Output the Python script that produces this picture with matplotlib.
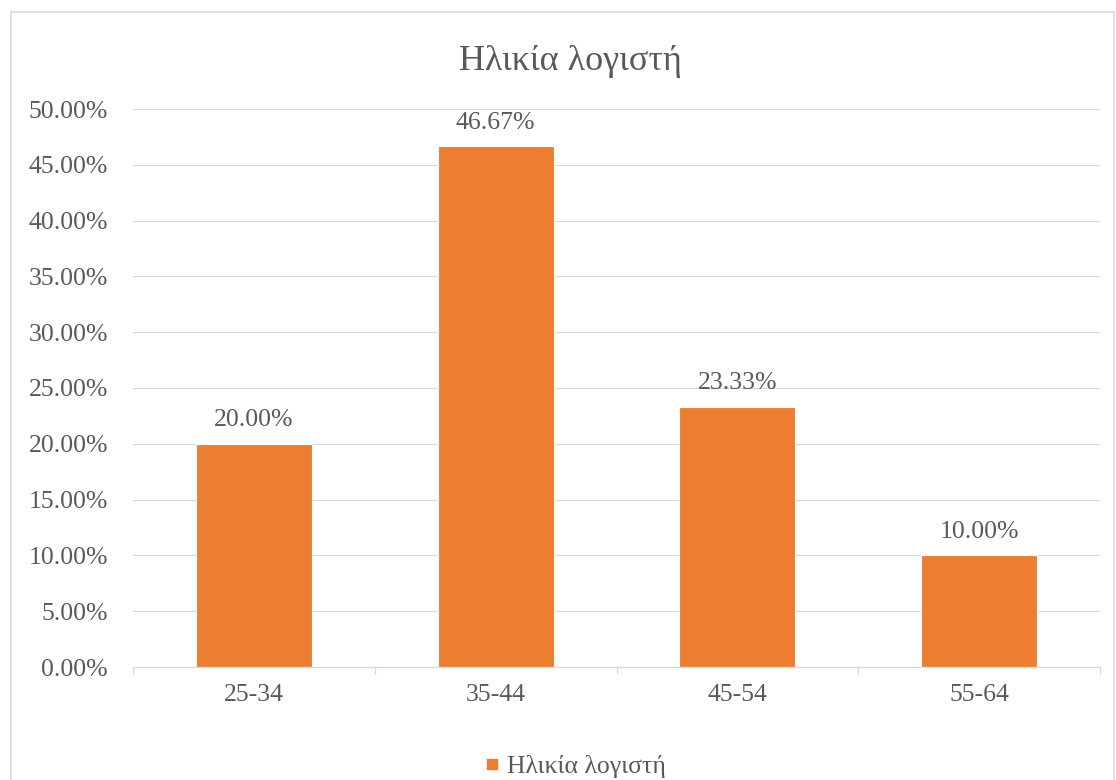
import matplotlib
matplotlib.use("Agg")
import matplotlib.pyplot as plt
from matplotlib.lines import Line2D
import numpy as np

categories = ["25-34", "35-44", "45-54", "55-64"]
values = [20.00, 46.67, 23.33, 10.00]
yticks = [0, 5, 10, 15, 20, 25, 30, 35, 40, 45, 50]
title = "Ηλικία λογιστή"
series_name = "Ηλικία λογιστή"

ORANGE = "#ED7D31"
TEXT = "#595959"
GRID = "#D9D9D9"
FONT = ["Liberation Serif", "DejaVu Serif"]

plt.rcParams["font.family"] = FONT

W, H = 1116, 780
fig = plt.figure(figsize=(W / 100, H / 100), dpi=100)
ax = fig.add_axes([133 / W, 1 - 667 / H, (1100 - 133) / W, (667 - 109) / H])

x = np.arange(len(categories))
bars = ax.bar(x, values, width=0.48, color=ORANGE, edgecolor="white", linewidth=0.8, zorder=3)

ax.set_xlim(-0.5, len(categories) - 0.5)
ax.set_ylim(0, 50)
ax.set_yticks(yticks)
ax.set_yticklabels([f"{v:.2f}%" for v in yticks])
ax.tick_params(axis="y", length=0, pad=18, labelsize=18.5, labelcolor=TEXT)
ax.set_xticks(x)
ax.set_xticklabels(categories)
ax.tick_params(axis="x", which="major", length=0, pad=12.5, labelsize=18.5, labelcolor=TEXT)
ax.set_xticks(np.arange(-0.5, len(categories)), minor=True)
ax.tick_params(axis="x", which="minor", length=5, width=0.9, color=GRID, direction="out")

ax.grid(axis="y", color=GRID, linewidth=0.8, zorder=0)
for s in ["left", "right", "top"]:
    ax.spines[s].set_visible(False)
ax.spines["bottom"].set_color(GRID)
ax.spines["bottom"].set_linewidth(0.9)
ax.spines["bottom"].set_zorder(4)

for xi, v in zip(x, values):
    ax.annotate(f"{v:.2f}%", (xi, v), xytext=(0, 9), textcoords="offset points",
                ha="center", va="bottom", fontsize=18.5, color=TEXT)

fig.text(570 / W, 1 - 70 / H, title, ha="center", va="baseline", fontsize=26, color=TEXT)

handle = Line2D([], [], marker="s", linestyle="none", color=ORANGE, markersize=7)
fig.legend([handle], [series_name], loc="center", bbox_to_anchor=(575 / W, 1 - 766 / H),
           frameon=False, fontsize=18.5, labelcolor=TEXT, handlelength=0.6,
           handletextpad=0.3, borderpad=0)

# chart area border
border = plt.Rectangle((11 / W, -0.05), (1114 - 11) / W, 1 - 12 / H + 0.05,
                       transform=fig.transFigure, fill=False, edgecolor=GRID, linewidth=1.2)
fig.patches.append(border)

fig.savefig("out.png", dpi=100)
